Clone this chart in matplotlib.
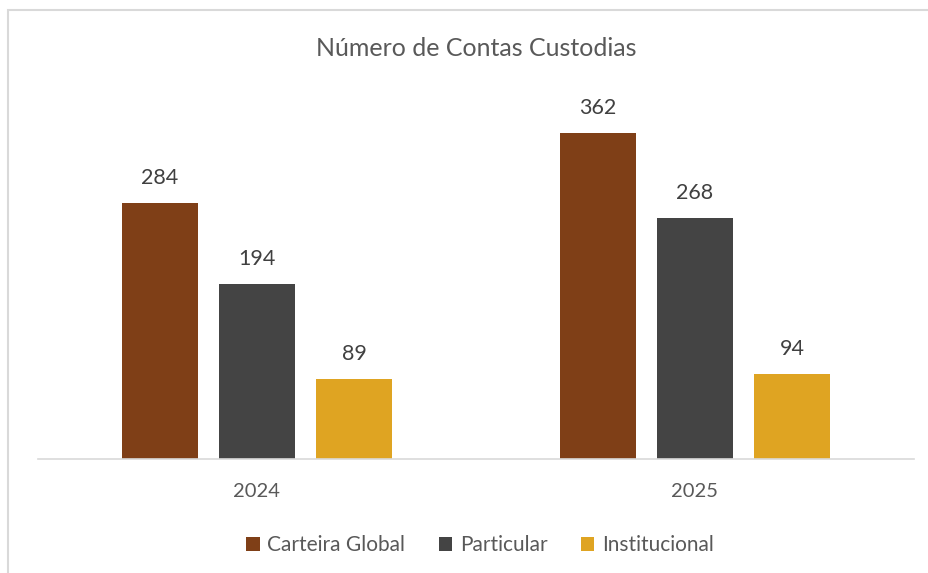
import matplotlib
matplotlib.use("Agg")
import matplotlib.pyplot as plt
from matplotlib.patches import Rectangle, Patch
import numpy as np

plt.rcParams['font.family'] = ['Lato', 'DejaVu Sans']

categories = ["2024", "2025"]
series_names = ["Carteira Global", "Particular", "Institucional"]
carteira_global = [284, 362]
particular = [194, 268]
institucional = [89, 94]
title = "Número de Contas Custodias"

colors = ["#7F3F17", "#444444", "#DFA422"]
text_color = "#595959"

fig = plt.figure(figsize=(9.29, 5.73), dpi=100)
ax = fig.add_axes([38/929, 114/573, (914-38)/929, 360.4/573])

x = np.arange(len(categories))
offsets = [-0.222, 0.0, 0.222]
width = 0.174
for vals, off, col, name in zip([carteira_global, particular, institucional], offsets, colors, series_names):
    bars = ax.bar(x + off, vals, width=width, color=col, label=name)
    for b, v in zip(bars, vals):
        ax.annotate(str(v), (b.get_x() + b.get_width()/2, v), xytext=(0, 18),
                    textcoords="offset points", ha="center", va="center",
                    fontsize=15.5, color="#404040")

ax.set_xlim(-0.5, 1.5)
ax.set_ylim(0, 400)
ax.set_yticks([])
ax.set_xticks(x)
ax.set_xticklabels(categories, fontsize=14.5, color=text_color)
ax.tick_params(axis='x', length=0, pad=17)
for s in ["top", "right", "left"]:
    ax.spines[s].set_visible(False)
ax.spines["bottom"].set_color("#D9D9D9")
ax.spines["bottom"].set_linewidth(1.2)

fig.text(476/929, 1 - 49/573, title, ha="center", va="center", fontsize=18, color=text_color)

handles = [Patch(facecolor=c, edgecolor='none') for c in colors]
fig.legend(handles, series_names, loc="center", bbox_to_anchor=(480/929, 1 - 545/573),
           ncol=3, frameon=False, fontsize=15, labelcolor=text_color,
           handlelength=0.66, handleheight=0.66, handletextpad=0.35, columnspacing=1.6)

fig.patches.append(Rectangle((8/929, -0.1), 1.1, 1.1 - 10/573, transform=fig.transFigure,
                             fill=False, edgecolor="#D9D9D9", linewidth=1.5))

fig.savefig("out.png", dpi=100)
